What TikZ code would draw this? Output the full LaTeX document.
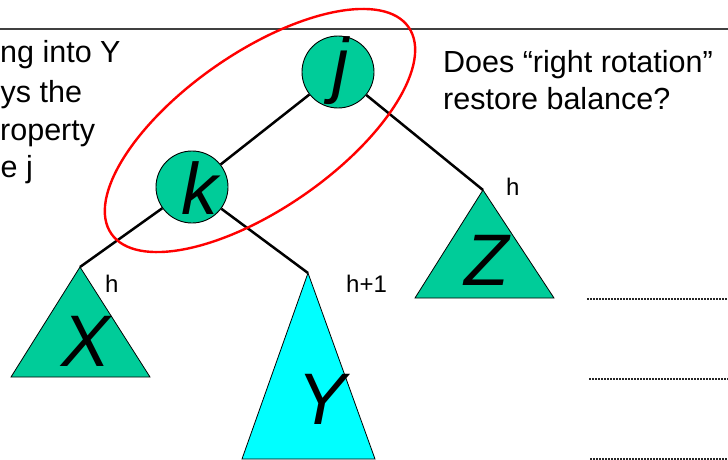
\documentclass[tikz,border=0pt]{standalone}
\usepackage{fontspec}
\setmainfont{Liberation Sans}
\definecolor{nodegreen}{RGB}{0,204,153}
\definecolor{treecyan}{RGB}{0,255,255}
\begin{document}
\begin{tikzpicture}[x=1pt,y=-1pt,
  treenode/.style={circle,draw=black,line width=0.9pt,fill=nodegreen,minimum size=72pt,inner sep=0pt},
  bigletter/.style={inner sep=0pt,anchor=base,font=\fontsize{73}{73}\selectfont\itshape},
  bodytext/.style={inner sep=0pt,anchor=base west,font=\fontsize{30.5}{30.5}\selectfont},
  hlabel/.style={inner sep=0pt,anchor=base west,font=\fontsize{24}{24}\selectfont},
  edge/.style={line width=2.5pt,black},
  subtree/.style={draw=black,line width=0.8pt,line join=miter},
  dotline/.style={line width=1.3pt,black!85,dash pattern=on 1.6pt off 1.4pt}]
\useasboundingbox (0,0) rectangle (728,460);
% top rule
\draw[line width=1.5pt,black!75] (0,29) -- (728,29);
% left text (cut at the left edge)
\node[bodytext] (t1) at (0,63) {ng into Y};
\node[bodytext] (t2) at (0.5,102) {ys the};
\node[bodytext] (t3) at (0,140) {roperty};
\node[bodytext] (t4) at (0.5,177) {e j};
% right text
\node[bodytext] (q1) at (443,72) {Does “right rotation”};
\node[bodytext] (q2) at (443,110) {restore balance?};
% subtree apex and base coordinates
\coordinate (Xt) at (80,267);
\coordinate (Xl) at (11,377);
\coordinate (Xr) at (150,377);
\coordinate (Yt) at (308,273);
\coordinate (Yl) at (242,459);
\coordinate (Yr) at (375,459);
\coordinate (Zt) at (483,190);
\coordinate (Zl) at (415,298);
\coordinate (Zr) at (554,298);
% subtrees
\draw[subtree,fill=nodegreen] (Xt) -- (Xl) -- (Xr) -- cycle;
\draw[subtree,fill=treecyan] (Yt) -- (Yl) -- (Yr) -- cycle;
\draw[subtree,fill=nodegreen] (Zt) -- (Zl) -- (Zr) -- cycle;
\node[bigletter] (xl) at (86,366) {X};
\node[bigletter] (yl) at (322,424) {Y};
\node[bigletter] (zl) at (487,285) {Z};
% nodes
\node[treenode] (j) at (338,72) {};
\node[treenode] (k) at (192,187) {};
% edges
\draw[edge] (j) -- (k);
\draw[edge] (j) -- (Zt);
\draw[edge] (k) -- (Xt);
\draw[edge] (k) -- (Yt);
\node[bigletter] (jl) at (341,89) {j};
\node[bigletter] (kl) at (200,214) {k};
% height labels
\node[hlabel] (hx) at (105,292) {h};
\node[hlabel] (hy) at (346,292) {h+1};
\node[hlabel] (hz) at (506,195) {h};
% red ellipse
\coordinate (E) at (260,130.5);
\draw[red,line width=2.4pt,rotate around={34.8:(E)}] (E) ellipse [x radius=181pt,y radius=78pt];
% dotted answer lines
\coordinate (d1a) at (587,299); \coordinate (d1b) at (728,299);
\coordinate (d2a) at (589,379); \coordinate (d2b) at (728,379);
\coordinate (d3a) at (590,459); \coordinate (d3b) at (728,459);
\draw[dotline] (d1a) -- (d1b);
\draw[dotline] (d2a) -- (d2b);
\draw[dotline] (d3a) -- (d3b);
\end{tikzpicture}
\end{document}
